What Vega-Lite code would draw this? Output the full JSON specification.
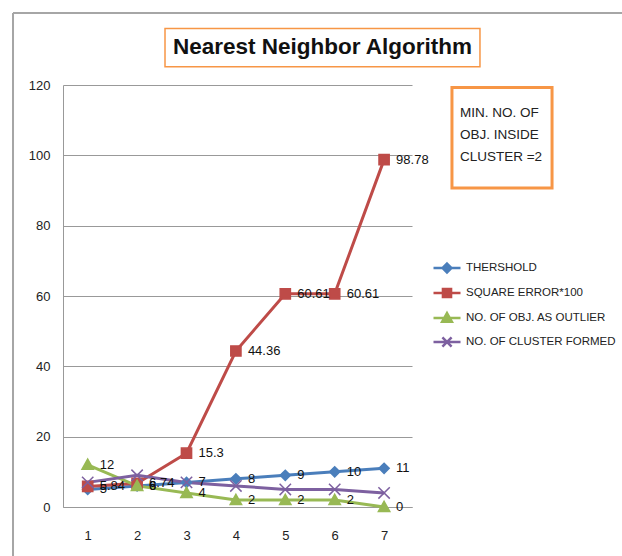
{
  "$schema": "https://vega.github.io/schema/vega-lite/v6.json",
  "width": 349,
  "height": 422,
  "autosize": {"type": "none"},
  "padding": {"left": 63, "top": 85, "right": 210, "bottom": 49},
  "background": "white",
  "config": {
    "view": {"stroke": null},
    "font": "Liberation Sans",
    "axis": {"labelFont": "Liberation Sans", "labelFontSize": 13, "labelColor": "#222222"},
    "axisX": {"ticks": false, "labelPadding": 22, "domainColor": "#999999", "grid": false, "labelFlush": false},
    "axisY": {"ticks": false, "labelPadding": 13, "domainColor": "#999999", "gridColor": "#999999", "gridOpacity": 1, "grid": true}
  },
  "datasets": {
    "runs": [
      {"x": 1, "series": "THERSHOLD", "value": 5},
      {"x": 2, "series": "THERSHOLD", "value": 6},
      {"x": 3, "series": "THERSHOLD", "value": 7},
      {"x": 4, "series": "THERSHOLD", "value": 8},
      {"x": 5, "series": "THERSHOLD", "value": 9},
      {"x": 6, "series": "THERSHOLD", "value": 10},
      {"x": 7, "series": "THERSHOLD", "value": 11},
      {"x": 1, "series": "SQUARE ERROR*100", "value": 5.84},
      {"x": 2, "series": "SQUARE ERROR*100", "value": 6.74},
      {"x": 3, "series": "SQUARE ERROR*100", "value": 15.3},
      {"x": 4, "series": "SQUARE ERROR*100", "value": 44.36},
      {"x": 5, "series": "SQUARE ERROR*100", "value": 60.61},
      {"x": 6, "series": "SQUARE ERROR*100", "value": 60.61},
      {"x": 7, "series": "SQUARE ERROR*100", "value": 98.78},
      {"x": 1, "series": "NO. OF OBJ. AS OUTLIER", "value": 12},
      {"x": 2, "series": "NO. OF OBJ. AS OUTLIER", "value": 6},
      {"x": 3, "series": "NO. OF OBJ. AS OUTLIER", "value": 4},
      {"x": 4, "series": "NO. OF OBJ. AS OUTLIER", "value": 2},
      {"x": 5, "series": "NO. OF OBJ. AS OUTLIER", "value": 2},
      {"x": 6, "series": "NO. OF OBJ. AS OUTLIER", "value": 2},
      {"x": 7, "series": "NO. OF OBJ. AS OUTLIER", "value": 0},
      {"x": 1, "series": "NO. OF CLUSTER FORMED", "value": 7},
      {"x": 2, "series": "NO. OF CLUSTER FORMED", "value": 9},
      {"x": 3, "series": "NO. OF CLUSTER FORMED", "value": 7},
      {"x": 4, "series": "NO. OF CLUSTER FORMED", "value": 6},
      {"x": 5, "series": "NO. OF CLUSTER FORMED", "value": 5},
      {"x": 6, "series": "NO. OF CLUSTER FORMED", "value": 5},
      {"x": 7, "series": "NO. OF CLUSTER FORMED", "value": 4}
    ],
    "one": [{}]
  },
  "layer": [
    {
      "data": {"name": "runs"},
      "mark": {"type": "line", "strokeWidth": 3},
      "encoding": {
        "x": {"field": "x", "type": "quantitative", "title": null, "scale": {"domain": [0.5, 7.565], "nice": false, "zero": false}, "axis": {"values": [1, 2, 3, 4, 5, 6, 7]}},
        "y": {"field": "value", "type": "quantitative", "title": null, "scale": {"domain": [0, 120], "nice": false}, "axis": {"values": [0, 20, 40, 60, 80, 100, 120]}},
        "color": {
          "field": "series", "type": "nominal", "legend": null,
          "scale": {
            "domain": ["THERSHOLD", "SQUARE ERROR*100", "NO. OF OBJ. AS OUTLIER", "NO. OF CLUSTER FORMED"],
            "range": ["#4A7EBB", "#BE4B48", "#98B954", "#7D60A0"]
          }
        },
        "order": {"field": "x"}
      }
    },
    {
      "data": {"name": "one"},
      "mark": {"type": "rule", "color": "#A6A6A6", "strokeWidth": 2, "clip": false},
      "encoding": {
        "x": {"datum": -0.512, "type": "quantitative", "title": null, "axis": {"values": [1, 2, 3, 4, 5, 6, 7]}},
        "y": {"datum": 140.5, "type": "quantitative", "title": null, "axis": {"values": [0, 20, 40, 60, 80, 100, 120]}},
        "y2": {"datum": -14}
      }
    },
    {
      "data": {"name": "one"},
      "mark": {"type": "rule", "color": "#A6A6A6", "strokeWidth": 2, "clip": false},
      "encoding": {
        "x": {"datum": -0.512, "type": "quantitative", "title": null, "axis": {"values": [1, 2, 3, 4, 5, 6, 7]}},
        "x2": {"datum": 12},
        "y": {"datum": 140.5, "type": "quantitative", "title": null, "axis": {"values": [0, 20, 40, 60, 80, 100, 120]}}
      }
    },
    {
      "data": {"name": "runs"},
      "mark": {"type": "point", "filled": true, "opacity": 1, "size": 144, "strokeWidth": 1.5},
      "encoding": {
        "x": {"field": "x", "type": "quantitative", "title": null, "axis": {"values": [1, 2, 3, 4, 5, 6, 7]}},
        "y": {"field": "value", "type": "quantitative", "title": null, "axis": {"values": [0, 20, 40, 60, 80, 100, 120]}},
        "color": {"field": "series", "type": "nominal", "legend": null},
        "stroke": {
          "field": "series", "type": "nominal", "legend": null,
          "scale": {
            "domain": ["THERSHOLD", "SQUARE ERROR*100", "NO. OF OBJ. AS OUTLIER", "NO. OF CLUSTER FORMED"],
            "range": ["#4A7EBB", "#BE4B48", "#98B954", "#7D60A0"]
          }
        },
        "shape": {
          "field": "series", "type": "nominal", "legend": null,
          "scale": {
            "domain": ["THERSHOLD", "SQUARE ERROR*100", "NO. OF OBJ. AS OUTLIER", "NO. OF CLUSTER FORMED"],
            "range": [
              "M0,-0.85L0.85,0L0,0.85L-0.85,0Z",
              "M-0.85,-0.85H0.85V0.85H-0.85Z",
              "M0,-0.95L0.95,0.75L-0.95,0.75Z",
              "M-0.95,-0.95L0.95,0.95M-0.95,0.95L0.95,-0.95"
            ]
          }
        }
      }
    },
    {
      "data": {"name": "runs"},
      "transform": [{"filter": "datum.series !== 'NO. OF CLUSTER FORMED'"}],
      "mark": {"type": "text", "align": "left", "baseline": "middle", "dx": 12, "fontSize": 13, "color": "#111111"},
      "encoding": {
        "x": {"field": "x", "type": "quantitative", "title": null, "axis": {"values": [1, 2, 3, 4, 5, 6, 7]}},
        "y": {"field": "value", "type": "quantitative", "title": null, "axis": {"values": [0, 20, 40, 60, 80, 100, 120]}},
        "text": {"field": "value", "type": "nominal"}
      }
    },
    {
      "data": {"name": "runs"},
      "transform": [{"filter": "false"}],
      "mark": {"type": "point", "filled": true, "opacity": 1},
      "encoding": {
        "x": {"field": "x", "type": "quantitative", "title": null, "axis": {"values": [1, 2, 3, 4, 5, 6, 7]}},
        "y": {"field": "value", "type": "quantitative", "title": null, "axis": {"values": [0, 20, 40, 60, 80, 100, 120]}},
        "color": {
          "field": "series", "type": "nominal",
          "legend": {
            "title": null, "orient": "none", "legendX": 369, "legendY": 168,
            "padding": 0, "rowPadding": 0, "symbolSize": 729, "symbolStrokeWidth": 2.5,
            "labelFont": "Liberation Sans", "labelFontSize": 11.5, "labelColor": "#222222", "labelOffset": 4, "labelLimit": 300
          }
        },
        "stroke": {
          "field": "series", "type": "nominal",
          "legend": {
            "title": null, "orient": "none", "legendX": 369, "legendY": 168,
            "padding": 0, "rowPadding": 0, "symbolSize": 729, "symbolStrokeWidth": 2.5,
            "labelFont": "Liberation Sans", "labelFontSize": 11.5, "labelColor": "#222222", "labelOffset": 4, "labelLimit": 300
          }
        },
        "shape": {
          "field": "series", "type": "nominal",
          "scale": {
            "domain": ["THERSHOLD", "SQUARE ERROR*100", "NO. OF OBJ. AS OUTLIER", "NO. OF CLUSTER FORMED"],
            "range": [
              "M-1,0H1M0,-0.33L0.33,0L0,0.33L-0.33,0Z",
              "M-1,0H1M-0.3,-0.3H0.3V0.3H-0.3Z",
              "M-1,0H1M0,-0.36L0.36,0.27L-0.36,0.27Z",
              "M-1,0H1M-0.34,-0.34L0.34,0.34M-0.34,0.34L0.34,-0.34"
            ]
          },
          "legend": {
            "title": null, "orient": "none", "legendX": 369, "legendY": 168,
            "padding": 0, "rowPadding": 0, "symbolSize": 729, "symbolStrokeWidth": 2.5,
            "labelFont": "Liberation Sans", "labelFontSize": 11.5, "labelColor": "#222222", "labelOffset": 4, "labelLimit": 300
          }
        }
      }
    },
    {
      "data": {"name": "one"},
      "mark": {"type": "rect", "fill": "white", "stroke": "#F79646", "strokeWidth": 1.5, "clip": false},
      "encoding": {
        "x": {"datum": 2.565, "type": "quantitative", "title": null, "axis": {"values": [1, 2, 3, 4, 5, 6, 7]}},
        "x2": {"datum": 8.941},
        "y": {"datum": 136.1, "type": "quantitative", "title": null, "axis": {"values": [0, 20, 40, 60, 80, 100, 120]}},
        "y2": {"datum": 125.2}
      }
    },
    {
      "data": {"name": "one"},
      "mark": {"type": "text", "align": "center", "baseline": "middle", "font": "Liberation Sans", "fontWeight": "bold", "fontSize": 22.5, "color": "#111111", "clip": false},
      "encoding": {
        "x": {"datum": 5.753, "type": "quantitative", "title": null, "axis": {"values": [1, 2, 3, 4, 5, 6, 7]}},
        "y": {"datum": 130.8, "type": "quantitative", "title": null, "axis": {"values": [0, 20, 40, 60, 80, 100, 120]}},
        "text": {"value": "Nearest Neighbor Algorithm"}
      }
    },
    {
      "data": {"name": "one"},
      "mark": {"type": "rect", "fill": "white", "stroke": "#F79646", "strokeWidth": 3, "clip": false},
      "encoding": {
        "x": {"datum": 8.374, "type": "quantitative", "title": null, "axis": {"values": [1, 2, 3, 4, 5, 6, 7]}},
        "x2": {"datum": 10.4},
        "y": {"datum": 119.3, "type": "quantitative", "title": null, "axis": {"values": [0, 20, 40, 60, 80, 100, 120]}},
        "y2": {"datum": 90.7}
      }
    },
    {
      "data": {"name": "one"},
      "mark": {"type": "text", "align": "left", "baseline": "alphabetic", "lineHeight": 22, "font": "Liberation Sans", "fontSize": 13.5, "color": "#222222", "clip": false},
      "encoding": {
        "x": {"datum": 8.536, "type": "quantitative", "title": null, "axis": {"values": [1, 2, 3, 4, 5, 6, 7]}},
        "y": {"datum": 111.0, "type": "quantitative", "title": null, "axis": {"values": [0, 20, 40, 60, 80, 100, 120]}},
        "text": {"value": ["MIN. NO. OF", "OBJ. INSIDE", "CLUSTER =2"]}
      }
    }
  ],
  "resolve": {
    "scale": {"shape": "independent"},
    "legend": {"shape": "independent", "color": "independent", "stroke": "independent"}
  }
}
